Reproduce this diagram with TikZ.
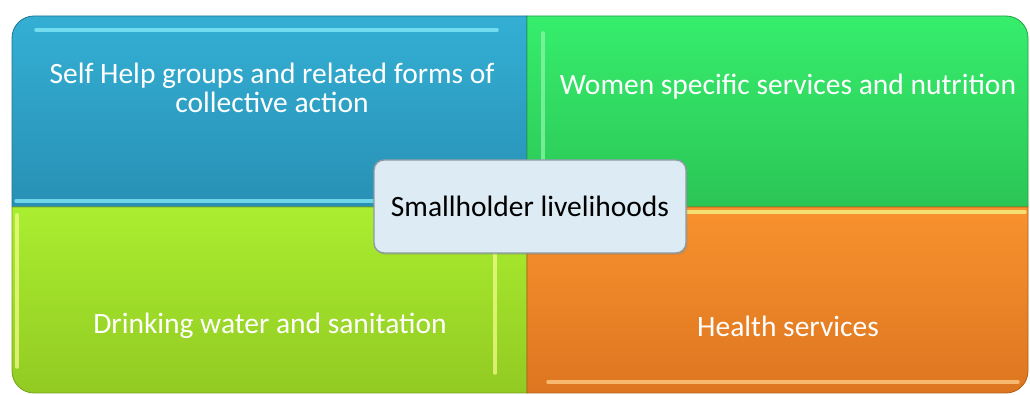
\documentclass[tikz,border=0pt]{standalone}
\usepackage{fontspec}
\setmainfont{Carlito}
\usetikzlibrary{positioning,shadows}
\definecolor{tlblue}{HTML}{34AFD4}
\definecolor{tlbluedk}{HTML}{2890B4}
\definecolor{trgreen}{HTML}{36EE6C}
\definecolor{trgreendk}{HTML}{2BC556}
\definecolor{bllime}{HTML}{AAEE30}
\definecolor{bllimedk}{HTML}{92CA22}
\definecolor{brorange}{HTML}{F8922E}
\definecolor{brorangedk}{HTML}{DD7620}
\definecolor{hubfill}{HTML}{DCEBF4}
\definecolor{hubline}{HTML}{8C9BA4}
\definecolor{bevcyan}{HTML}{86EEFA}
\definecolor{bevgreen}{HTML}{8CF6A8}
\definecolor{bevyellow}{HTML}{F4FA8A}
\definecolor{bevorange}{HTML}{FFD08A}

\begin{document}
\begin{tikzpicture}[x=1pt,y=1pt]
\useasboundingbox (0,0) rectangle (1030,395);
%styles
\tikzstyle{quad}=[line width=0.8pt]
\tikzstyle{bevel}=[line width=3.5pt,line cap=round,opacity=0.75]
\tikzstyle{quadtext}=[text=white,align=center,font=\fontsize{29.5}{29}\selectfont]
\tikzstyle{hub}=[draw=hubline,line width=1.4pt,fill=hubfill,rounded corners=10pt,minimum width=312pt,minimum height=93pt,font=\fontsize{29.5}{29}\selectfont,drop shadow={opacity=0.25,shadow xshift=1.5pt,shadow yshift=-2pt}]
%%%%%%%%%%%%%%%%%%%%%%%%%%%%%%%%%%%%%%%%%%%%%%%%%%%%%%%%%%%%%%%%%%%%%%%%
%quadrants
%1
\draw[quad,draw=tlbluedk!80!black,top color=tlblue,bottom color=tlbluedk]
 (12,188) -- (12,357) arc[start angle=180,end angle=90,radius=22] % angle haut gauche
 -- (527,379) -- (527,188) -- cycle;
%2
\draw[quad,draw=trgreendk!80!black,top color=trgreen,bottom color=trgreendk]
 (527,188) -- (527,379) -- (1006,379) arc[start angle=90,end angle=0,radius=22] % angle haut droit
 -- (1028,188) -- cycle;
%3
\draw[quad,draw=bllimedk!80!black,top color=bllime,bottom color=bllimedk]
 (12,188) -- (12,24) arc[start angle=180,end angle=270,radius=22] % angle bas gauche
 -- (527,2) -- (527,188) -- cycle;
%4
\draw[quad,draw=brorangedk!80!black,top color=brorange,bottom color=brorangedk]
 (527,188) -- (527,2) -- (1006,2) arc[start angle=270,end angle=360,radius=22] % angle bas droit
 -- (1028,188) -- cycle;

%bevels
\draw[bevel,color=bevcyan] (36,365) -- (497,365);
\draw[bevel,color=bevcyan] (16,194) -- (524,194);
\draw[bevel,color=bevgreen] (543,362) -- (543,200);
\draw[bevel,color=bevyellow] (17,180) -- (17,28);
\draw[bevel,color=bevyellow] (495,145) -- (495,22);
\draw[bevel,color=bevyellow] (531,183) -- (1025,183);
\draw[bevel,color=bevorange] (548,13) -- (1018,13);

%texts
\node[quadtext] (shg) at (272,307.5) {Self Help groups and related forms of\\collective action};
\node[quadtext] (women) at (788,308) {Women specific services and nutrition};
\node[quadtext] (water) at (270,69) {Drinking water and sanitation};
\node[quadtext] (health) at (788,69) {Health services};

%centre
\node[hub] (small) at (530,188.5) {Smallholder livelihoods};
\end{tikzpicture}
\end{document}
